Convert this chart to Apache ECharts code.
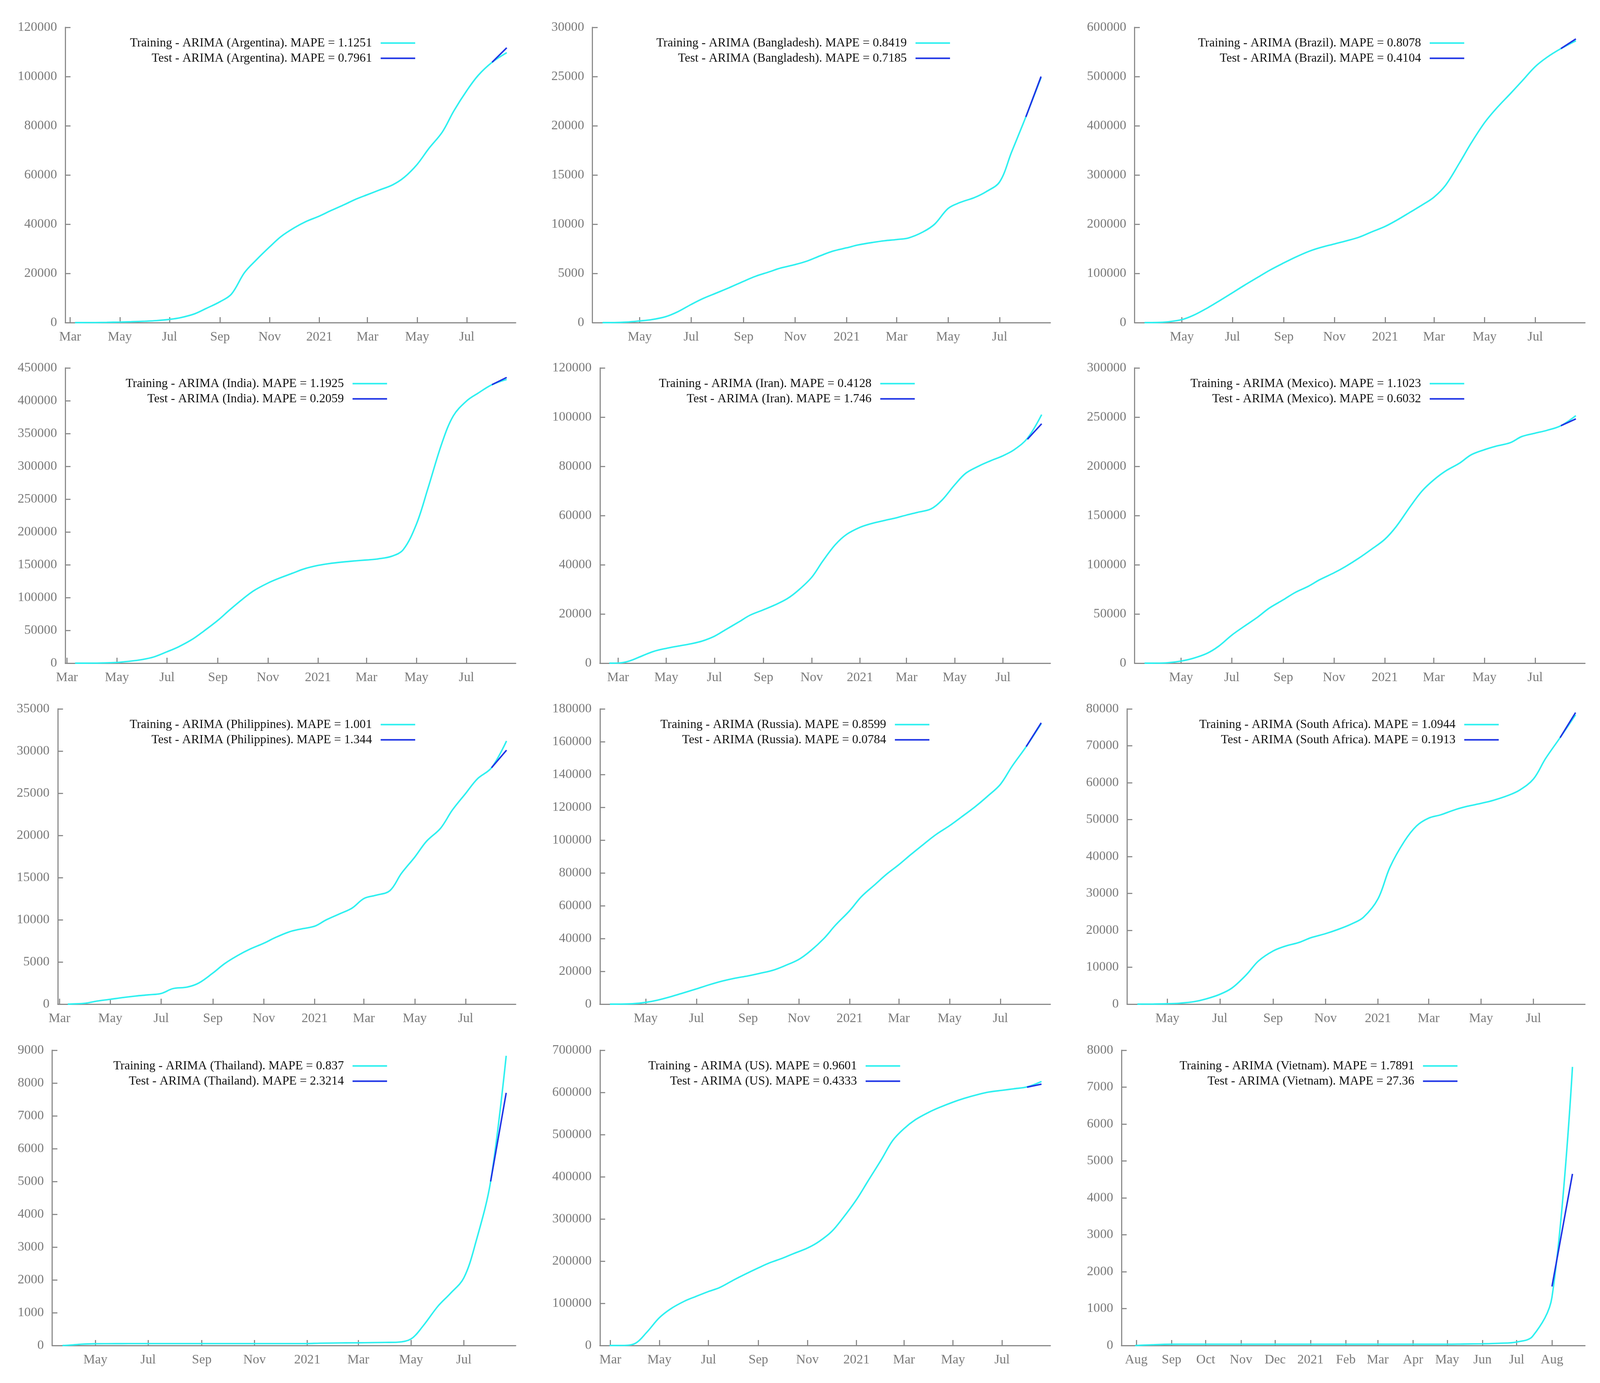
<!DOCTYPE html>
<html>
<head>
<meta charset="utf-8">
<script src="https://cdn.jsdelivr.net/npm/echarts@6/dist/echarts.min.js"></script>
<style>
  html, body { margin: 0; padding: 0; background: #fff; overflow: hidden; }
  #main { width: 100vw; height: 100vh; }
</style>
</head>
<body>
<div id="main"></div>
<script>
// semi-monthly sample dates shared by every country (cumulative deaths)
var DATES = ['2020-02-15','2020-03-01','2020-03-15','2020-04-01','2020-04-15','2020-05-01','2020-05-15',
  '2020-06-01','2020-06-15','2020-07-01','2020-07-15','2020-08-01','2020-08-15','2020-09-01','2020-09-15',
  '2020-10-01','2020-10-15','2020-11-01','2020-11-15','2020-12-01','2020-12-15','2021-01-01','2021-01-15',
  '2021-02-01','2021-02-15','2021-03-01','2021-03-15','2021-04-01','2021-04-15','2021-05-01','2021-05-15',
  '2021-06-01','2021-06-15','2021-07-01','2021-07-15','2021-08-01','2021-08-19'];
var TEST_DATES = ['2021-08-01', '2021-08-19'];

var argentina = [null,null,2,27,98,218,353,564,815,1307,2050,3596,5750,8498,11600,20300,25300,30800,35000,
  38500,41000,43300,45500,48000,50200,52000,53800,56000,59000,64300,70600,77500,86000,94300,100500,105800,109700];
var argentinaTest = [105800, 111700];

var bangladesh = [null,null,null,5,50,170,300,610,1100,1850,2450,3050,3550,4200,4700,5150,5550,5900,6250,
  6800,7250,7600,7900,8150,8320,8440,8600,9200,10000,11600,12200,12700,13300,14300,17300,20900,24900];
var bangladeshTest = [20900, 25000];

var brazil = [null,null,null,200,1750,6000,14800,29900,44000,60600,75400,92500,106500,121400,133000,144700,
  152500,159900,166000,173800,183700,195400,208000,225100,239300,255000,279300,325300,365400,406400,434900,
  465200,490700,520100,538900,556800,572600];
var brazilTest = [556800, 576500];

var india = [null,null,2,40,420,1150,2750,5600,9500,17400,24900,36500,49000,65300,80800,97500,110600,122100,
  129600,137100,143700,149000,151900,154300,155900,157300,158900,163000,173100,211900,266200,335100,377000,
  399500,411400,424400,432500];
var indiaTest = [424400, 435500];

var iran = [null,54,850,3040,4780,6030,6900,7880,8950,10960,13600,16800,19500,21700,23600,26200,29600,34900,
  41500,48200,52300,55200,56700,58000,59000,60200,61300,62700,66300,72500,77200,80200,82200,84300,86700,91400,101000];
var iranTest = [91000, 97300];

var mexico = [null,null,null,30,450,2150,4800,9900,17100,28500,36900,46700,55900,64400,71700,78100,84900,
  91800,98300,106800,115100,125800,139000,159500,175000,186200,195100,203200,211700,216900,220500,224000,
  230300,233700,236500,241300,251500];
var mexicoTest = [241300, 248200];

var philippines = [null,null,12,107,360,570,770,970,1100,1270,1840,2020,2500,3690,4800,5780,6500,7220,7900,
  8550,8900,9240,10000,10750,11400,12520,12900,13440,15500,17430,19300,20860,23000,24980,26700,28020,31200];
var philippinesTest = [28020, 30100];

var russia = [null,null,null,17,230,1070,2420,4690,6830,9300,11600,14060,15700,17250,18800,20700,23400,27300,
  32500,40000,48200,57000,65500,73200,79500,85000,91000,98000,103500,108800,114000,120500,126500,134000,
  145000,157000,171000];
var russiaTest = [157000, 171500];

var southAfrica = [null,null,null,5,27,103,260,680,1420,2660,4350,8000,11700,14400,15700,16700,18000,19100,
  20200,21700,23500,28500,37100,44200,48300,50400,51300,52700,53600,54400,55200,56500,58000,61000,66500,72200,78400];
var southAfricaTest = [72200, 79000];

var thailand = [null,null,null,10,40,54,56,57,58,58,58,58,58,58,58,58,58,58,58,58,58,60,70,76,80,83,88,94,100,
  200,600,1195,1575,2060,3160,5000,8830];
var thailandTest = [5000, 7700];

var us = [null,1,70,5100,30800,66000,87000,105000,116000,128000,137500,155000,168500,184000,196000,207000,
  218000,231000,246000,270000,302000,346000,389000,441000,486000,514000,535000,553000,565000,577000,586000,
  595000,601000,605000,608500,613000,626000];
var usTest = [612500, 619500];

var vietnam = [null,null,null,null,null,null,null,null,null,null,null,1,20,34,35,35,35,35,35,35,35,35,35,35,
  35,35,35,35,35,35,40,47,60,95,250,1310,7550];
var vietnamTest = [1600, 4650];

var PANELS = [
  { c: 'Argentina',    train: argentina,   test: argentinaTest,   first: '2020-03-07', max: 120000, step: 20000,  mape: ['1.1251', '0.7961'], digits: 6, key: 1107 },
  { c: 'Bangladesh',   train: bangladesh,  test: bangladeshTest,  first: '2020-03-18', max: 30000,  step: 5000,   mape: ['0.8419', '0.7185'], digits: 5, key: 2533 },
  { c: 'Brazil',       train: brazil,      test: brazilTest,      first: '2020-03-17', max: 600000, step: 100000, mape: ['0.8078', '0.4104'], digits: 6, key: 3904 },
  { c: 'India',        train: india,       test: indiaTest,       first: '2020-03-11', max: 450000, step: 50000,  mape: ['1.1925', '0.2059'], digits: 6, key: 1032 },
  { c: 'Iran',         train: iran,        test: iranTest,        first: '2020-02-19', max: 120000, step: 20000,  mape: ['0.4128', '1.746'],  digits: 6, key: 2439 },
  { c: 'Mexico',       train: mexico,      test: mexicoTest,      first: '2020-03-18', max: 300000, step: 50000,  mape: ['1.1023', '0.6032'], digits: 6, key: 3904 },
  { c: 'Philippines',  train: philippines, test: philippinesTest, first: '2020-03-11', max: 35000,  step: 5000,   mape: ['1.001', '1.344'],   digits: 5, key: 1107 },
  { c: 'Russia',       train: russia,      test: russiaTest,      first: '2020-03-19', max: 180000, step: 20000,  mape: ['0.8599', '0.0784'], digits: 6, key: 2478 },
  { c: 'South Africa', train: southAfrica, test: southAfricaTest, first: '2020-03-27', max: 80000,  step: 10000,  mape: ['1.0944', '0.1913'], digits: 5, key: 3996 },
  { c: 'Thailand',     train: thailand,    test: thailandTest,    first: '2020-03-24', max: 9000,   step: 1000,   mape: ['0.837', '2.3214'],  digits: 4, key: 1032 },
  { c: 'US',           train: us,          test: usTest,          first: '2020-02-29', max: 700000, step: 100000, mape: ['0.9601', '0.4333'], digits: 6, key: 2400 },
  { c: 'Vietnam',      train: vietnam,     test: vietnamTest,     first: '2020-07-31', max: 8000,   step: 1000,   mape: ['1.7891', '27.36'],  digits: 4, key: 3886, monthly: true }
];

var MONTHS = ['Jan','Feb','Mar','Apr','May','Jun','Jul','Aug','Sep','Oct','Nov','Dec'];
var FONT = "'Liberation Serif', 'DejaVu Serif', serif";
var TRAIN_COLOR = '#2ef0f0';
var TEST_COLOR = '#1f35e6';
var AXIS_COLOR = '#8a8a8a';
var LABEL_COLOR = '#7a7a7a';
var DAY = 86400000;

function ts(s) {
  var p = s.split('-').map(Number);
  return Date.UTC(p[0], p[1] - 1, p[2]);
}

var chart = echarts.init(document.getElementById('main'));
// layout was measured on a 4266 x 3541 canvas; scale to whatever we actually got
var sx = chart.getWidth() / 4266, sy = chart.getHeight() / 3541, sf = Math.min(sx, sy);

var colX = [0, 1425.5, 2851];
var plotLeft = { 6: 174, 5: 154, 4: 139 };
var rowTop = [70, 942, 1815, 2689];
var plotW = 1375, plotH = 756;

var grids = [], xAxes = [], yAxes = [], series = [], legends = [];

PANELS.forEach(function (p, i) {
  var col = i % 3, row = Math.floor(i / 3);
  var left = colX[col] + plotLeft[p.digits];
  var right = colX[col] + plotW;
  grids.push({ left: left * sx, top: rowTop[row] * sy, width: (right - left) * sx, height: plotH * sy });

  var xmin = ts(p.first) - 12 * DAY;
  var xmax = ts('2021-08-19') + 11 * DAY;
  var ticks = [];
  for (var y = 2020; y <= 2021; y++) {
    for (var m = 0; m < 12; m++) {
      if (!p.monthly && m % 2 === 1) continue;
      var t = Date.UTC(y, m, 1);
      if (t >= xmin && t <= xmax) ticks.push(t);
    }
  }

  // dates are plotted as UTC millisecond values on a value axis
  xAxes.push({
    type: 'value', gridIndex: i, min: xmin, max: xmax, scale: true,
    axisLine: { show: true, onZero: false, lineStyle: { color: AXIS_COLOR, width: 3 * sf } },
    axisTick: { show: true, inside: true, length: 14 * sy, customValues: ticks, lineStyle: { color: AXIS_COLOR, width: 3 * sf } },
    minorTick: { show: false },
    splitLine: { show: false },
    axisLabel: {
      customValues: ticks, margin: 20 * sy, fontSize: 35 * sf, color: LABEL_COLOR, fontFamily: FONT,
      formatter: function (v) {
        var d = new Date(v);
        return d.getUTCMonth() === 0 ? String(d.getUTCFullYear()) : MONTHS[d.getUTCMonth()];
      }
    }
  });

  yAxes.push({
    type: 'value', gridIndex: i, min: 0, max: p.max, interval: p.step,
    axisLine: { show: true, onZero: false, lineStyle: { color: AXIS_COLOR, width: 3 * sf } },
    axisTick: { show: true, inside: true, length: 14 * sx, lineStyle: { color: AXIS_COLOR, width: 3 * sf } },
    splitLine: { show: false },
    axisLabel: {
      margin: 22 * sx, fontSize: 35 * sf, color: LABEL_COLOR, fontFamily: FONT,
      formatter: function (v) { return String(v); }
    }
  });

  var trainName = 'Training - ARIMA (' + p.c + '). MAPE = ' + p.mape[0];
  var testName = 'Test - ARIMA (' + p.c + '). MAPE = ' + p.mape[1];

  var trainData = [[ts(p.first), 0]];
  DATES.forEach(function (d, k) {
    if (p.train[k] != null && ts(d) > ts(p.first)) trainData.push([ts(d), p.train[k]]);
  });
  var testData = TEST_DATES.map(function (d, k) { return [ts(d), p.test[k]]; });

  series.push({
    name: trainName, type: 'line', xAxisIndex: i, yAxisIndex: i, data: trainData,
    showSymbol: false, smooth: 0.35, z: 2,
    lineStyle: { color: TRAIN_COLOR, width: 4 * sf }, itemStyle: { color: TRAIN_COLOR }
  });
  series.push({
    name: testName, type: 'line', xAxisIndex: i, yAxisIndex: i, data: testData,
    showSymbol: false, z: 3,
    lineStyle: { color: TEST_COLOR, width: 4 * sf }, itemStyle: { color: TEST_COLOR }
  });

  [trainName, testName].forEach(function (n, k) {
    legends.push({
      data: [n], right: (4266 - p.key) * sx, top: (rowTop[row] + 22 + k * 39) * sy,
      orient: 'horizontal', align: 'right', icon: 'rect', itemWidth: 92 * sx, itemHeight: 4 * sf,
      padding: 0, selectedMode: false,
      textStyle: { fontSize: 33 * sf, color: '#111', fontFamily: FONT, lineHeight: 38 * sf, padding: [0, 18 * sx, 0, 0] }
    });
  });
});

chart.setOption({
  animation: false,
  backgroundColor: '#fff',
  grid: grids,
  xAxis: xAxes,
  yAxis: yAxes,
  legend: legends,
  series: series
});
</script>
</body>
</html>
